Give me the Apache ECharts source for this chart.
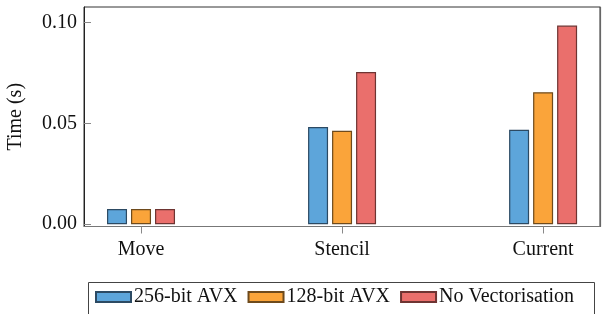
<!DOCTYPE html>
<html>
<head>
<meta charset="utf-8">
<script src="https://cdn.jsdelivr.net/npm/echarts@6/dist/echarts.min.js"></script>
<style>html,body{margin:0;padding:0;background:#fff;}#c{width:606px;height:314px;}</style>
</head>
<body>
<div id="c"></div>
<script>
const categories = ['Move', 'Stencil', 'Current'];
const seriesNames = ['256-bit AVX', '128-bit AVX', 'No Vectorisation'];
const avx256 = [0.0075, 0.0482, 0.0469];
const avx128 = [0.0075, 0.0464, 0.0655];
const noVec = [0.0075, 0.0755, 0.0986];
const yTicks = [0, 0.05, 0.10];

const colors = ['#5DA5DA', '#FAA43A', '#EA6F6C'];
const borders = ['#2c4a63', '#6e4a1c', '#6e3432'];
const FONT = 'Liberation Serif';
const FS = 20;
const allValues = [avx256, avx128, noVec];

const chart = echarts.init(document.getElementById('c'), null, {renderer: 'canvas'});
const catIdx = categories.map((c, i) => i);

chart.setOption({
  animation: false,
  backgroundColor: '#fff',
  grid: {left: 84, top: 7, right: 6, bottom: 87.5, outerBoundsMode: 'none', containLabel: false,
         show: true, borderColor: '#333', borderWidth: 1},
  xAxis: [{
    type: 'value', min: -0.2836, max: 2.283,
    splitLine: {show: false},
    axisLine: {show: true, onZero: false, lineStyle: {color: '#777', width: 1.2}},
    axisTick: {show: true, customValues: catIdx, length: 7, lineStyle: {color: '#888'}},
    axisLabel: {customValues: catIdx, formatter: v => categories[Math.round(v)], fontFamily: FONT, fontSize: FS, color: '#111', margin: 13}
  }],
  yAxis: [{
    type: 'value', min: -0.00114, max: 0.1078,
    name: 'Time (s)', nameLocation: 'middle', nameGap: 58, nameRotate: 90,
    nameTextStyle: {fontFamily: FONT, fontSize: FS, color: '#111'},
    splitLine: {show: false},
    axisLine: {show: true, onZero: false, lineStyle: {color: '#222', width: 1}},
    axisTick: {show: true, inside: true, customValues: yTicks, length: 7, lineStyle: {color: '#888'}},
    axisLabel: {customValues: yTicks, formatter: v => v.toFixed(2), fontFamily: FONT, fontSize: FS, color: '#111', margin: 7}
  }, {
    type: 'value', position: 'right', min: -0.00114, max: 0.1078,
    splitLine: {show: false}, axisTick: {show: false}, axisLabel: {show: false},
    axisLine: {show: true, onZero: false, lineStyle: {color: '#666', width: 1.2}}
  }],
  legend: {
    left: 95, top: 287, padding: 0, itemGap: 10, itemWidth: 35, itemHeight: 10, icon: 'rect',
    data: seriesNames,
    textStyle: {fontFamily: FONT, fontSize: FS, color: '#111', padding: [0, 0, 0, -2]}
  },
  graphic: [{
    type: 'rect', shape: {x: 88.5, y: 282.5, width: 506, height: 60},
    style: {fill: 'none', stroke: '#444', lineWidth: 1}, silent: true
  }],
  series: seriesNames.map((name, s) => ({
    name: name, type: 'bar', barWidth: 20, barGap: '20%',
    data: allValues[s].map((v, i) => [i, v]),
    itemStyle: {color: colors[s], borderColor: borders[s], borderWidth: 1.2}
  }))
});
</script>
</body>
</html>
